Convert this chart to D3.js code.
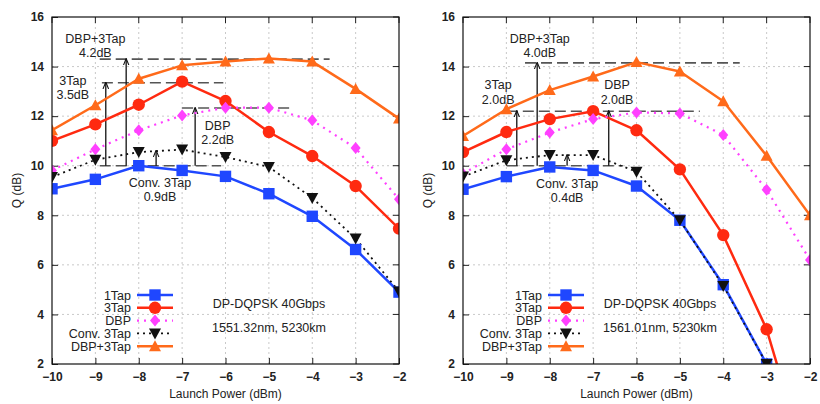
<!DOCTYPE html>
<html><head><meta charset="utf-8">
<script src="https://cdn.jsdelivr.net/npm/d3@7"></script>
<style>body{margin:0;background:#fff}svg{display:block}text{font-family:"Liberation Sans",Arial,sans-serif;fill:#222}</style>
</head><body><svg id="c" width="820" height="404"></svg>
<script>
const powers = [-10,-9,-8,-7,-6,-5,-4,-3,-2];
const xTicks = [-10,-9,-8,-7,-6,-5,-4,-3,-2];
const yTicks = [2,4,6,8,10,12,14,16];
const seriesNames = ["1Tap","3Tap","DBP","Conv. 3Tap","DBP+3Tap"];

// Left panel (1551.32nm)
const left1Tap   = [9.07,9.45,10.0,9.81,9.57,8.87,7.96,6.62,4.9];
const left3Tap   = [11.0,11.67,12.46,13.39,12.61,11.36,10.39,9.18,7.46];
const leftDBP    = [9.81,10.66,11.43,12.03,12.34,12.34,11.83,10.71,8.65];
const leftConv   = [9.54,10.24,10.55,10.65,10.35,9.95,8.7,7.06,4.93];
const leftDBP3   = [11.43,12.44,13.51,14.05,14.2,14.33,14.2,13.1,11.9];
// Right panel (1561.01nm)
const right1Tap  = [9.05,9.56,9.95,9.81,9.18,7.8,5.2,2.0,null];
const right3Tap  = [10.55,11.36,11.88,12.2,11.43,9.85,7.2,3.4,-2.5];
const rightDBP   = [9.68,10.66,11.34,11.88,12.15,12.11,11.24,9.03,6.2];
const rightConv  = [9.56,10.22,10.43,10.43,9.76,7.8,5.15,2.0,null];
const rightDBP3  = [11.2,12.28,13.05,13.6,14.18,13.8,12.6,10.4,8.0];

const panelTitles = ["DP-DQPSK 40Gbps","DP-DQPSK 40Gbps"];
const panelSubtitles = ["1551.32nm, 5230km","1561.01nm, 5230km"];
const xLabel = "Launch Power (dBm)";
const yLabel = "Q (dB)";

// annotations: [label, value text, base level, top level]
const leftGains  = [["DBP+3Tap","4.2dB",10,14.3],["3Tap","3.5dB",10,13.35],["DBP","2.2dB",10,12.33],["Conv. 3Tap","0.9dB",10,10.6]];
const rightGains = [["DBP+3Tap","4.0dB",10,14.15],["3Tap","2.0dB",10,12.2],["DBP","2.0dB",10,12.2],["Conv. 3Tap","0.4dB",10,10.43]];

const styles = [
  {color:"#1f47ff", width:2.5, dash:null, marker:"square"},
  {color:"#ff2a10", width:2.5, dash:null, marker:"circle"},
  {color:"#ff40ff", width:2.2, dash:"2,5", marker:"diamond"},
  {color:"#111111", width:1.8, dash:"2,4", marker:"triDown"},
  {color:"#ff6a1a", width:2.5, dash:null, marker:"triUp"}
];

const svg = d3.select("#c");
const defs = svg.append("defs");
defs.append("marker").attr("id","arr").attr("viewBox","0 0 10 10").attr("refX",9).attr("refY",5)
  .attr("markerWidth",7).attr("markerHeight",7).attr("markerUnits","userSpaceOnUse").attr("orient","auto")
  .append("path").attr("d","M0,1 L10,5 L0,9").attr("fill","none").attr("stroke","#111").attr("stroke-width",1.5);

function markerPath(type){
  if(type==="square") return d3.symbol(d3.symbolSquare,130)();
  if(type==="circle") return d3.symbol(d3.symbolCircle,120)();
  if(type==="diamond") return "M0,-6 L5,0 L0,6 L-5,0 Z";
  if(type==="triDown") return "M-6,-5 L6,-5 L0,6 Z";
  return "M0,-6 L6,5 L-6,5 Z";
}

function panel(idx, x0, data, gains, ann){
  const W = 347, H = 347, top = 17;
  const x = d3.scaleLinear().domain([-10,-2]).range([x0, x0+W]);
  const y = d3.scaleLinear().domain([2,16]).range([top+H, top]);
  const g = svg.append("g");
  const cid = "clip"+idx;
  defs.append("clipPath").attr("id",cid).append("rect").attr("x",x0).attr("y",top).attr("width",W).attr("height",H);

  // grid
  g.append("g").selectAll("line").data(xTicks.slice(1,-1)).join("line")
    .attr("x1",d=>x(d)).attr("x2",d=>x(d)).attr("y1",top).attr("y2",top+H)
    .attr("stroke","#bbb").attr("stroke-width",0.8).attr("stroke-dasharray","2,3");
  g.append("g").selectAll("line").data(yTicks.slice(1,-1)).join("line")
    .attr("y1",d=>y(d)).attr("y2",d=>y(d)).attr("x1",x0).attr("x2",x0+W)
    .attr("stroke","#bbb").attr("stroke-width",0.8).attr("stroke-dasharray","2,3");

  // axes
  const ax = g.append("g").attr("transform",`translate(0,${top+H})`)
    .call(d3.axisBottom(x).tickValues(xTicks).tickSize(-6).tickPadding(8).tickFormat(d3.format("d")));
  const ay = g.append("g").attr("transform",`translate(${x0},0)`)
    .call(d3.axisLeft(y).tickValues(yTicks).tickSize(-6).tickPadding(8).tickFormat(d3.format("d")));
  [ax,ay].forEach(a=>{a.select(".domain").remove(); a.selectAll("line").attr("stroke","#222");
    a.selectAll("text").attr("font-size",12).attr("fill","#222").style("font-weight","bold");});
  // top/right ticks
  g.append("g").selectAll("line").data(xTicks).join("line").attr("x1",d=>x(d)).attr("x2",d=>x(d))
    .attr("y1",top).attr("y2",top+6).attr("stroke","#222");
  g.append("g").selectAll("line").data(yTicks).join("line").attr("y1",d=>y(d)).attr("y2",d=>y(d))
    .attr("x1",x0+W).attr("x2",x0+W-6).attr("stroke","#222");

  // annotations: dashed reference lines
  g.append("g").selectAll("line").data(ann.refLines).join("line")
    .attr("x1",d=>x(d[1])).attr("x2",d=>x(d[2])).attr("y1",d=>y(d[0])).attr("y2",d=>y(d[0]))
    .attr("stroke","#555").attr("stroke-width",1.6).attr("stroke-dasharray","11,5");

  // arrows
  g.append("g").selectAll("line").data(ann.arrows).join("line")
    .attr("x1",d=>x(d[0])).attr("x2",d=>x(d[0])).attr("y1",d=>y(d[1])).attr("y2",d=>y(d[2]))
    .attr("stroke","#111").attr("stroke-width",1.3).attr("marker-end","url(#arr)");

  // series
  const lineGen = d3.line().defined(d=>d[1]!==null).x(d=>x(d[0])).y(d=>y(d[1]));
  const sg = g.append("g").attr("clip-path",`url(#${cid})`);
  data.forEach((vals,i)=>{
    const st = styles[i];
    const pts = powers.map((p,j)=>[p,vals[j]]);
    sg.append("path").datum(pts).attr("d",lineGen).attr("fill","none")
      .attr("stroke",st.color).attr("stroke-width",st.width)
      .attr("stroke-dasharray",st.dash).attr("stroke-linejoin","round");
  });
  data.forEach((vals,i)=>{
    const st = styles[i];
    const pts = powers.map((p,j)=>[p,vals[j]]).filter(d=>d[1]!==null && d[1]>=2);
    sg.append("g").selectAll("path").data(pts).join("path")
      .attr("transform",d=>`translate(${x(d[0])},${y(d[1])})`)
      .attr("d",markerPath(st.marker)).attr("fill",st.color);
  });

  // frame
  g.append("rect").attr("x",x0).attr("y",top).attr("width",W).attr("height",H)
    .attr("fill","none").attr("stroke","#111").attr("stroke-width",1.2);

  // annotation texts
  ann.texts.forEach((t,k)=>{
    const tx = g.append("text").attr("x",x(t[0])).attr("text-anchor","middle").attr("font-size",12.5);
    tx.append("tspan").attr("x",x(t[0])).attr("y",y(t[1])).text(gains[k][0]);
    tx.append("tspan").attr("x",x(t[0])).attr("dy",14.5).text(gains[k][1]);
  });

  // legend
  const lg = g.append("g");
  seriesNames.forEach((n,i)=>{
    const ly = 295 + i*12.8;
    const st = styles[i];
    lg.append("text").attr("x",x0+79).attr("y",ly+4.5).attr("text-anchor","end").attr("font-size",12.5).text(n);
    lg.append("line").attr("x1",x0+85).attr("x2",x0+121).attr("y1",ly).attr("y2",ly)
      .attr("stroke",st.color).attr("stroke-width",st.width).attr("stroke-dasharray",st.dash);
    lg.append("path").attr("transform",`translate(${x0+103},${ly})`).attr("d",markerPath(st.marker)).attr("fill",st.color);
  });
  g.append("text").attr("x",x0+ann.infoX).attr("y",308).attr("text-anchor","middle").attr("font-size",12.5).text(panelTitles[idx]);
  g.append("text").attr("x",x0+ann.infoX).attr("y",332).attr("text-anchor","middle").attr("font-size",12.5).text(panelSubtitles[idx]);

  // axis labels
  g.append("text").attr("x",x0+W/2).attr("y",398).attr("text-anchor","middle").attr("font-size",12).text(xLabel);
  g.append("text").attr("transform",`translate(${x0-31},${top+H/2}) rotate(-90)`).attr("text-anchor","middle").attr("font-size",12).text(yLabel);
}

panel(0, 52, [left1Tap,left3Tap,leftDBP,leftConv,leftDBP3], leftGains, {
  refLines:[[14.3,-8.9,-3.6],[13.35,-8.85,-6.05],[12.33,-7.0,-4.5],[10,-8.9,-6.1]],
  arrows:[[-8.29,10,14.3],[-8.76,10,13.35],[-6.7,10,12.33],[-7.6,10,10.6]],
  texts:[[-9.0,14.97],[-9.52,13.27],[-6.18,11.46],[-7.51,9.15]],
  infoX:217
});
panel(1, 463, [right1Tap,right3Tap,rightDBP,rightConv,rightDBP3], rightGains, {
  refLines:[[14.15,-8.57,-3.62],[12.2,-8.99,-4.54],[10,-8.99,-6.31]],
  arrows:[[-8.29,10,14.15],[-8.76,10,12.2],[-6.64,10,12.2],[-7.6,10,10.43]],
  texts:[[-8.23,14.97],[-9.19,13.08],[-6.45,13.08],[-7.6,9.12]],
  infoX:197
});
</script></body></html>
